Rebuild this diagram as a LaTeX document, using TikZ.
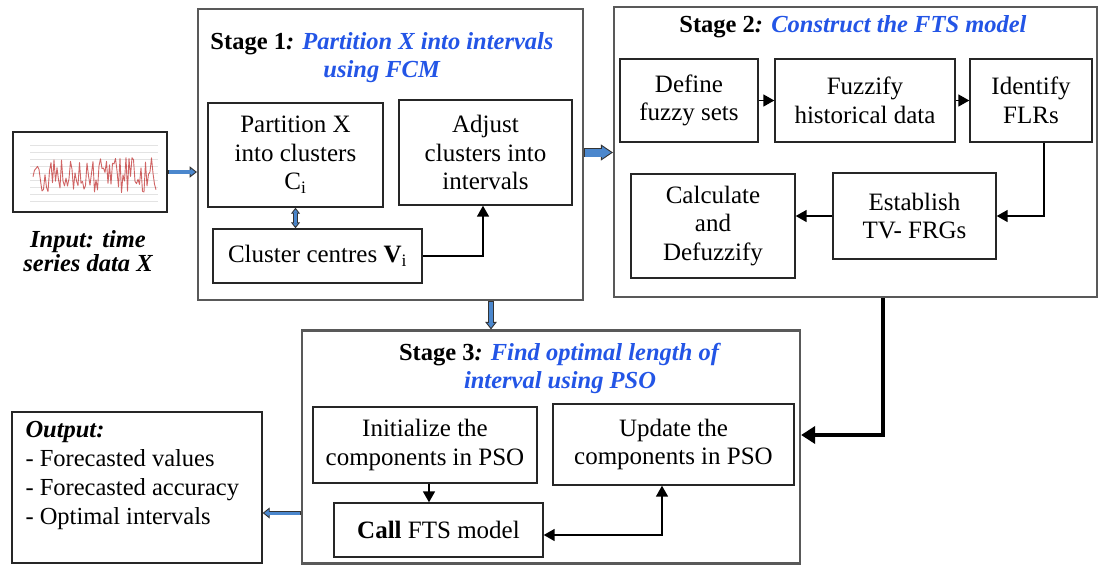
\documentclass[tikz,border=0pt]{standalone}
\usepackage{fontspec}
\setmainfont{Liberation Serif}
\usetikzlibrary{arrows.meta}
\definecolor{ttl}{RGB}{35,85,230}
\definecolor{ablue}{RGB}{75,135,205}
\begin{document}
\begin{tikzpicture}[x=1pt,y=-1pt,
  box/.style={draw=black!85, line width=1.4, inner sep=0, align=center, font=\fontsize{25}{28.5}\selectfont},
  stagebox/.style={draw=black!65, line width=2.2, inner sep=0},
  title/.style={align=center, inner sep=0, font=\fontsize{24.5}{28}\selectfont},
  arr/.style={line width=1.6, -{Triangle[length=11,width=12]}},
  dblarr/.style={line width=1.6, {Triangle[length=11,width=12]}-{Triangle[length=11,width=12]}},
  thickarr/.style={line width=3.5, -{Triangle[length=14,width=17]}},
  barrow/.style={line width=#1+1.6, draw=black!80,
     -{Triangle[length=#1+4,width=#1+8,line width=0.9,fill=ablue]},
     postaction={draw=ablue, line width=#1, -, shorten >=#1+2.5, shorten <=0.8}},
  bdbl/.style={line width=5, draw=black!80,
     {Triangle[length=6,width=9,line width=0.9,fill=ablue]}-{Triangle[length=6,width=9,line width=0.9,fill=ablue]},
     postaction={draw=ablue, line width=3.2, -, shorten >=5, shorten <=5}},
]
\useasboundingbox (0,0) rectangle (1101,566);

% input
\node[box, minimum width=154, minimum height=80] (inp) at (90,172) {};
\foreach \yy in {145,152,159,166,173,180,187,194,201}
  \draw[gray!22, line width=1] (30,\yy) -- (158,\yy);
\pgfmathsetseed{11}
\draw[red!70!black, opacity=0.6, line width=0.9, line join=round]
  plot[domain=0:82, samples=83, variable=\t] ({33+1.5*\t},{176+19*rand});
\node[align=center, inner sep=0, font=\fontsize{24.5}{24}\selectfont\bfseries\itshape] (inptxt) at (88,251) {Input: time\\series data X};

% stage 1
\node[stagebox, minimum width=385, minimum height=291] (s1) at (390.5,154.5) {};
\node[title] (t1) at (382,58) {\textbf{Stage 1}\textbf{\textit{: }}\textcolor{ttl}{\textbf{\textit{Partition X into intervals}}}\\\textcolor{ttl}{\textbf{\textit{using FCM}}}};
\node[box, minimum width=175, minimum height=104] (part) at (295.5,155) {Partition X\\into clusters\\C\textsubscript{i}};
\node[box, minimum width=173, minimum height=105] (adj) at (485.5,152.5) {Adjust\\clusters into\\intervals};
\node[box, minimum width=209, minimum height=54] (cc) at (317.5,256) {Cluster centres \textbf{V}\textsubscript{i}};

% stage 2
\node[stagebox, minimum width=483, minimum height=290] (s2) at (855.5,152) {};
\node[title] (t2) at (853,27) {\textbf{Stage 2}\textbf{\textit{: }}\textcolor{ttl}{\textbf{\textit{Construct the FTS model}}}};
\node[box, minimum width=138, minimum height=83] (def) at (689,100.5) {Define\\fuzzy sets};
\node[box, minimum width=180, minimum height=83] (fuz) at (865,100.5) {Fuzzify\\historical data};
\node[box, minimum width=122, minimum height=83] (ide) at (1031,100.5) {Identify\\FLRs};
\node[box, minimum width=164, minimum height=104] (calc) at (713,226) {Calculate\\and\\Defuzzify};
\node[box, minimum width=163, minimum height=86] (est) at (914.5,216) {Establish\\TV- FRGs};

% stage 3
\node[stagebox, minimum width=498, minimum height=233] (s3) at (551,447) {};
\node[title] (t3) at (560,368) {\textbf{Stage 3}\textbf{\textit{: }}\textcolor{ttl}{\textbf{\textit{Find optimal length of}}}\\\textcolor{ttl}{\textbf{\textit{interval using PSO}}}};
\node[box, minimum width=224, minimum height=76] (ini) at (425,445) {Initialize the\\components in PSO};
\node[box, minimum width=241, minimum height=81] (upd) at (673.5,444.5) {Update the\\components in PSO};
\node[box, minimum width=209, minimum height=54] (call) at (438.5,530) {\textbf{Call} FTS model};

% output
\node[box, minimum width=250, minimum height=151] (out) at (137,487.5) {};
\node[anchor=north west, align=left, inner sep=0, font=\fontsize{24.5}{29}\selectfont] (outtxt) at ([xshift=14,yshift=-10]out.north west)
  {\textbf{\textit{Output:}}\\- Forecasted values\\- Forecasted accuracy\\- Optimal intervals};

% connectors
\draw[barrow=3.2] (inp.east) -- (inp.east -| s1.west);
\draw[bdbl] (part.south) -- (part.south |- cc.north);
\draw[arr] (cc.east) -| ([xshift=-2.5]adj.south);
\draw[barrow=8] ([yshift=2]s1.east) -- ([yshift=2]s1.east -| s2.west);
\draw[arr] (def.east) -- (fuz.west);
\draw[arr] (fuz.east) -- (ide.west);
\draw[arr] ([xshift=13]ide.south) |- (est.east);
\draw[arr] (est.west) -- (est.west -| calc.east);
\draw[thickarr] ([xshift=27.5]s2.south) |- ([yshift=12]s3.east);
\draw[barrow=3.5] ([xshift=100.5]s1.south) -- ([xshift=100.5]s1.south |- s3.north);
\draw[arr] ([xshift=4]ini.south) -- ([xshift=4]ini.south |- call.north);
\draw[dblarr] ([yshift=-5]call.east) -| ([xshift=-11.5]upd.south);
\draw[barrow=3] ([yshift=-66]s3.west) -- ([yshift=-66]s3.west -| out.east);
\end{tikzpicture}
\end{document}
